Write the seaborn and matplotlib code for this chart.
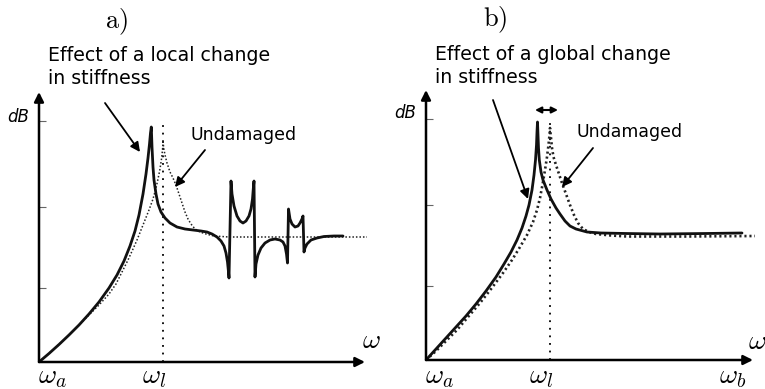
import numpy as np
import pandas as pd
import matplotlib
matplotlib.use("Agg")
import matplotlib.pyplot as plt
import seaborn as sns

# ---------------- data (omega, dB) ----------------
# panel a: local change in stiffness (solid)
a_dam_w = [0, 10, 20, 30, 40, 50, 60, 70, 78, 85, 91, 96, 100, 104, 107, 109, 110.5,
           111.5, 112.3, 113, 114, 115, 117, 119, 122, 126, 131, 138, 146, 154, 162,
           168, 173, 178, 182, 185, 187, 188.5, 189.5, 190,
           192, 193, 195, 198, 201, 204, 207, 210, 212, 213.5, 214.5, 215,
           216, 217, 219, 222, 226, 231, 236, 241, 244, 246, 247.5, 248.5,
           249.5, 251, 253, 256, 259, 261, 263, 264,
           265, 266, 268, 272, 278, 285, 295, 304]
a_dam_db = [0, 8.5, 17.5, 27, 37, 48, 60, 74, 87, 101, 116, 131, 147, 168, 188, 204, 218,
            229, 235, 215, 195, 182, 168, 158, 150, 144, 139, 135, 133, 132, 131,
            130, 128, 125, 121, 116, 109, 100, 90, 84,
            181, 168, 156, 146, 141, 139, 141, 146, 153, 163, 176, 181,
            85, 98, 107, 114, 119, 122, 123, 122, 120, 116, 108, 99,
            153, 143, 138, 135, 136, 139, 143, 146,
            110, 114, 118, 122, 124, 125.5, 126, 126]
# panel a: undamaged (dotted)
a_und_w = [0, 10, 20, 30, 40, 50, 60, 70, 77, 83, 89, 94, 98, 102, 106, 110, 114, 117,
           119, 121, 122.5, 123.5, 124, 125, 126.5, 128, 131, 134, 137, 140, 143, 146,
           149, 152, 156, 161, 167, 175, 190, 220, 328]
a_und_db = [0, 8.5, 17.5, 27, 37, 47, 57, 68, 78, 90, 102, 113, 122, 132, 142, 152, 163,
            174, 183, 193, 203, 212, 220, 212, 205, 199, 190, 184, 177, 168, 159, 150,
            143, 138, 133, 130, 128, 126, 125, 125, 125]

# panel b: global change in stiffness (solid)
b_dam_w = [0, 10, 20, 30, 40, 50, 60, 70, 78, 85, 91, 96, 100, 103, 106, 108, 109.5,
           110.5, 111, 111.5, 112, 112.5, 113.3, 115, 117, 121, 125, 130, 134, 139,
           144, 150, 161, 175, 200, 234, 280, 316]
b_dam_db = [0, 11, 22, 33, 44, 56, 69, 83, 96, 108, 120, 132, 144, 155, 170, 185, 200,
            215, 228, 238, 225, 212, 200, 188, 180, 170, 161, 152, 146, 139,
            134, 131, 128, 127, 126.5, 126, 126.5, 127]
# panel b: undamaged (dotted)
b_und_w = [0, 10, 20, 31, 42, 54, 65, 77, 86, 94, 101, 107, 111, 114, 117, 119, 121,
           122.5, 123.5, 124, 125, 126, 127.5, 130, 133, 136, 140, 144, 148, 152, 157,
           163, 170, 185, 201, 260, 329]
b_und_db = [0, 9, 19, 30, 43, 57, 71, 87, 100, 113, 125, 138, 150, 162, 178, 190, 203,
            215, 225, 232, 222, 212, 203, 195, 186, 177, 166, 155, 145, 137, 131,
            128, 126, 124.5, 123.5, 123.5, 124]

omega_l = 124
omega_l_top = 237
ytick_vals = [74, 155, 241]

titles = ["a)", "b)"]
effect_texts = ["Effect of a local change\nin stiffness",
                "Effect of a global change\nin stiffness"]
undamaged_text = "Undamaged"

# ---------------- figure ----------------
sns.set_style("white")
plt.rcParams["font.family"] = ["DejaVu Sans"]
plt.rcParams["mathtext.fontset"] = "cm"
plt.rcParams["text.color"] = "black"

W, H = 765, 389
fig = plt.figure(figsize=(W / 100, H / 100), dpi=100)


def fx(px):
    return px / W


def fy(py):
    return 1 - py / H


def make_axes(x0, y0, w, h):
    ax = fig.add_axes([fx(x0), fy(y0), w / W, h / H])
    ax.set_xlim(0, w)
    ax.set_ylim(0, h)
    for s in ax.spines.values():
        s.set_visible(False)
    ax.set_xticks([])
    ax.set_yticks(ytick_vals)
    ax.set_yticklabels([])
    ax.tick_params(axis="y", direction="in", length=5, width=0.8, color="#666666",
                   left=True, pad=0)
    ax.patch.set_alpha(0)
    ax.grid(False)
    return ax


axA = make_axes(39, 362, 330, 275)
axB = make_axes(426, 360, 335, 275)

for ax, xend in [(axA, 326), (axB, 327)]:
    ax.annotate("", xy=(0, 270), xytext=(0, 0),
                arrowprops=dict(arrowstyle="-|>", lw=1.8, color="k", mutation_scale=14,
                                shrinkA=0, shrinkB=0))
    ax.annotate("", xy=(xend, 0), xytext=(0, 0),
                arrowprops=dict(arrowstyle="-|>", lw=1.8, color="k", mutation_scale=14,
                                shrinkA=0, shrinkB=0))
    sns.lineplot(x=[omega_l, omega_l], y=[0, omega_l_top], ax=ax, color="k", lw=1.3,
                 linestyle=(0, (1, 3.2)), sort=False, estimator=None)

# panel a curves
sns.lineplot(x=a_und_w, y=a_und_db, ax=axA, color="#222222", lw=1.1,
             linestyle=(0, (1, 1.3)), sort=False, estimator=None)
sns.lineplot(x=a_dam_w, y=a_dam_db, ax=axA, color="#111111", lw=2.0,
             sort=False, estimator=None)

# panel b curves
sns.lineplot(x=b_und_w, y=b_und_db, ax=axB, color="#222222", lw=1.9,
             linestyle=(0, (0.8, 1.1)), sort=False, estimator=None)
sns.lineplot(x=b_dam_w, y=b_dam_db, ax=axB, color="#111111", lw=2.0,
             sort=False, estimator=None)

for ax in (axA, axB):
    ax.set_xlabel("")
    ax.set_ylabel("")

# ---------------- text ----------------
fig.text(fx(116), fy(22), r"$\mathrm{a)}$", fontsize=19, ha="center", va="center")
fig.text(fx(495), fy(20), r"$\mathrm{b)}$", fontsize=19, ha="center", va="center")

fig.text(fx(48), fy(67), effect_texts[0], fontsize=13.6, ha="left", va="center",
         linespacing=1.3)
fig.text(fx(435), fy(66), effect_texts[1], fontsize=13.6, ha="left", va="center",
         linespacing=1.3)
fig.text(fx(190), fy(135), undamaged_text, fontsize=12.5, ha="left", va="center")
fig.text(fx(577), fy(132), undamaged_text, fontsize=12.5, ha="left", va="center")

fig.text(fx(18), fy(117), "dB", fontsize=12, style="italic", ha="center", va="center")
fig.text(fx(405), fy(113), "dB", fontsize=12, style="italic", ha="center", va="center")

for px, py, s in [(371, 340, r"$\omega$"), (757, 341, r"$\omega$"),
                  (53, 376, r"$\omega_a$"), (154, 376, r"$\omega_l$"),
                  (440, 376, r"$\omega_a$"), (541, 376, r"$\omega_l$"),
                  (733, 376, r"$\omega_b$")]:
    fig.text(fx(px), fy(py), s, fontsize=20, ha="center", va="center")


def arrow(x1, y1, x2, y2, style="-|>", ms=14, lw=1.3):
    fig.add_artist(matplotlib.patches.FancyArrowPatch(
        (fx(x1), fy(y1)), (fx(x2), fy(y2)), transform=fig.transFigure,
        arrowstyle=style, mutation_scale=ms, lw=lw, color="k",
        shrinkA=0, shrinkB=0))


arrow(105, 103, 140, 152)
arrow(205, 150, 175, 187)
arrow(493, 100, 528, 199)
arrow(593, 148, 562, 187)
arrow(535, 110, 558, 110, style="<|-|>", ms=9, lw=1.5)

fig.savefig("out.png", dpi=100)
